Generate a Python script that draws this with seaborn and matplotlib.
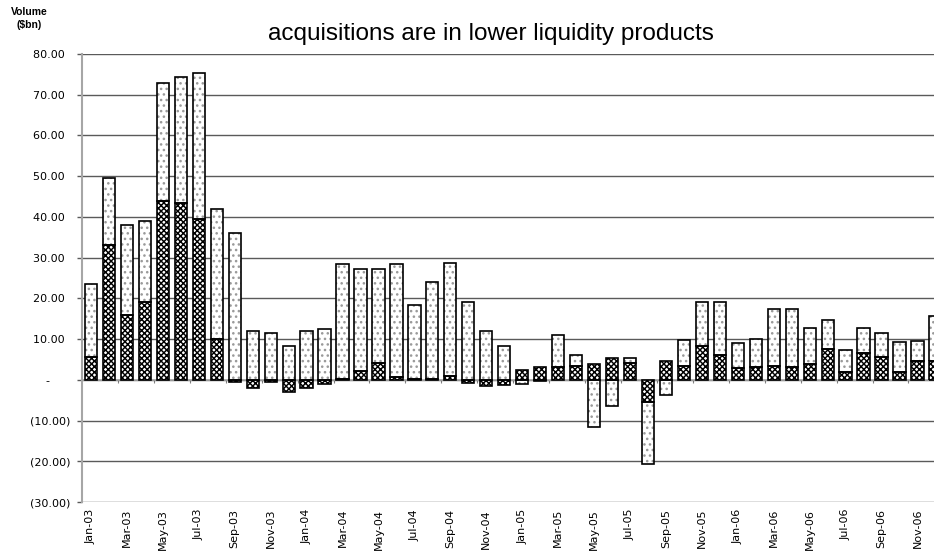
import numpy as np
import matplotlib
matplotlib.use('Agg')
import matplotlib.pyplot as plt
import seaborn as sns

# monthly categories Jan-03 .. Dec-06
years = ['03', '04', '05', '06']
month_names = ['Jan', 'Feb', 'Mar', 'Apr', 'May', 'Jun', 'Jul', 'Aug', 'Sep', 'Oct', 'Nov', 'Dec']
months = [m + '-' + y for y in years for m in month_names]

# cross-hatched series ($bn)
hatched = [5.6, 33.0, 16.0, 19.0, 44.0, 43.4, 39.5, 10.0, -0.5, -2.0, -0.5, -2.9,
           -2.0, -1.0, 0.3, 2.2, 4.2, 0.7, 0.3, 0.2, 1.0, -0.7, -1.5, -1.2,
           2.5, 3.1, 3.2, 3.4, 3.8, 5.3, 4.1, -5.5, 4.7, 3.3, 8.4, 6.1,
           2.9, 3.1, 3.3, 3.1, 3.8, 7.5, 1.9, 6.5, 5.6, 2.0, 4.5, 4.5]

# dotted series ($bn)
dotted = [17.9, 16.5, 22.0, 19.9, 28.9, 31.0, 35.9, 31.9, 36.0, 12.1, 11.6, 8.2,
          12.1, 12.6, 28.2, 24.9, 22.9, 27.8, 18.0, 23.8, 27.7, 19.0, 12.1, 8.2,
          -1.0, -0.3, 7.8, 2.8, -11.5, -6.5, 1.2, -15.1, -3.8, 6.4, 10.6, 13.1,
          6.1, 6.8, 14.0, 14.4, 8.9, 7.1, 5.5, 6.2, 6.0, 7.2, 5.1, 11.2]

ytick_vals = [-30, -20, -10, 0, 10, 20, 30, 40, 50, 60, 70, 80]
ytick_labels = ['(30.00)', '(20.00)', '(10.00)', '-\u2007\u2007\u2002',
                '10.00\u2002', '20.00\u2002', '30.00\u2002', '40.00\u2002',
                '50.00\u2002', '60.00\u2002', '70.00\u2002', '80.00\u2002']

sns.set_style('white')
plt.rcParams['font.family'] = ['DejaVu Sans']
plt.rcParams['text.color'] = 'black'
plt.rcParams['xtick.color'] = 'black'
plt.rcParams['ytick.color'] = 'black'
plt.rcParams['hatch.linewidth'] = 1.05

fig = plt.figure(figsize=(9.34, 5.58), dpi=100)
ax = fig.add_axes([82/934, 56/558, 1 - 82/934, 448/558])

ax.set_axisbelow(True)
ax.yaxis.grid(True, color='#5a5a5a', lw=1)
ax.axhline(0, color='#a6a6a6', lw=1.2, zorder=1)

# dotted part sits on the hatched part when both have the same sign
h = np.array(hatched)
d = np.array(dotted)
dotted_bottom = np.where(np.sign(h) == np.sign(d), h, 0)

for vals, bot, hatch, hc in [(hatched, 0, 'xxxxxx', 'black'),
                             (dotted, dotted_bottom, '...', '#9a9a9a')]:
    sns.barplot(x=months, y=vals, bottom=bot, color='white', edgecolor=hc, hatch=hatch,
                linewidth=0, width=0.68, errorbar=None, ax=ax, zorder=2)
    sns.barplot(x=months, y=vals, bottom=bot, fill=False, color='black',
                linewidth=1.2, width=0.68, errorbar=None, ax=ax, zorder=3)

ax.set_xlim(-0.5, 46.92)
ax.set_ylim(-30, 80)
ax.set_xlabel('')
ax.set_ylabel('')

ax.set_xticks(range(0, len(months), 2))
ax.set_xticklabels(months[::2], rotation=90, fontsize=8)
ax.tick_params(axis='x', length=0, pad=5, labelcolor='black')

ax.set_yticks(ytick_vals)
ax.set_yticklabels(ytick_labels, fontsize=8)
ax.tick_params(axis='y', left=True, length=3.6, width=1, color='#5a5a5a', pad=5,
               labelcolor='black')

for s in ['top', 'right', 'bottom']:
    ax.spines[s].set_visible(False)
ax.spines['left'].set_color('#a6a6a6')
ax.spines['left'].set_linewidth(1.5)

# small category ticks on the zero line
sec = ax.secondary_xaxis(30/110)
sec.set_xticks(np.arange(1.5, len(months), 2))
sec.set_xticklabels([])
sec.tick_params(length=2.5, width=0.8, color='#808080')
for s in sec.spines.values():
    s.set_visible(False)

fig.text(491/934, 1 - 40/558, 'acquisitions are in lower liquidity products',
         fontsize=17.5, family='Liberation Sans', ha='center', va='baseline', color='black')
fig.text(29.5/934, 1 - 7/558, 'Volume\n($bn)', fontsize=7.5, fontweight='bold',
         family='Liberation Sans', ha='center', va='top', linespacing=1.4, color='black')

fig.savefig('out.png', dpi=100)
